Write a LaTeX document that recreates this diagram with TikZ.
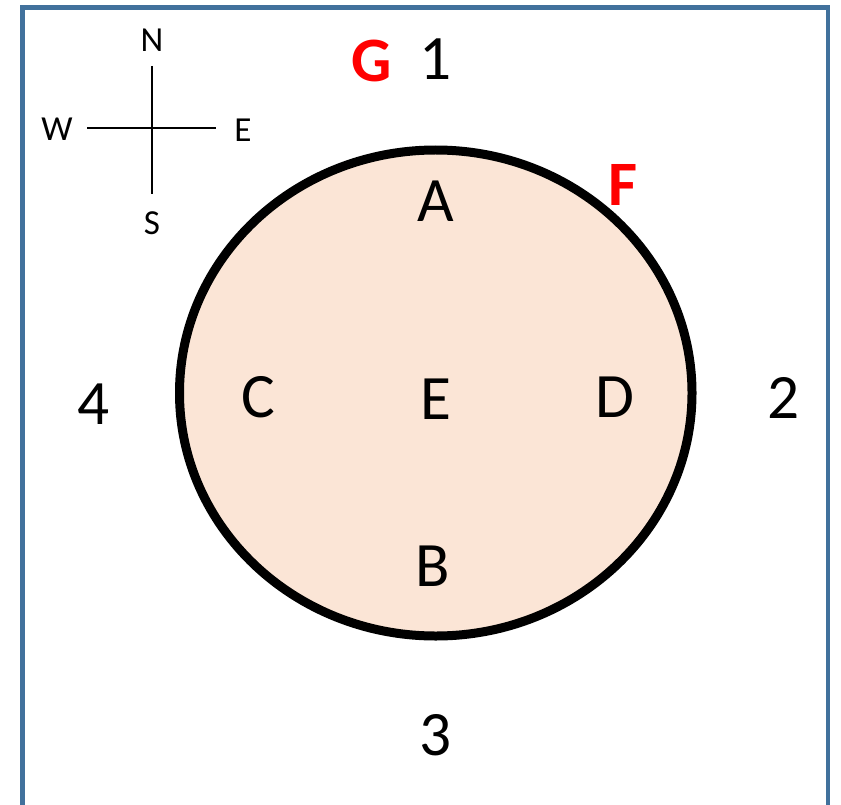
\documentclass[tikz,border=0pt]{standalone}
\usepackage{fontspec}
\setmainfont{Carlito}
\usetikzlibrary{positioning}
\definecolor{FrameBlue} {RGB}{ 65,113,156}
\definecolor{PeachFill} {RGB}{251,229,214}
\definecolor{MarkRed}   {RGB}{255,  0,  0}

\begin{document}
\begin{tikzpicture}[x=0.02cm,y=-0.02cm,
      lbl/.style={inner sep=0pt,font=\fontsize{36}{40}\selectfont},
      redlbl/.style={lbl,text=MarkRed,font=\fontsize{36}{40}\selectfont\bfseries},
      dirlbl/.style={inner sep=0pt,font=\fontsize{20}{24}\selectfont},
      cross/.style={line width=0.05cm,black}]
    \useasboundingbox (0,0) rectangle (841,804);
    % frame, open at the bottom
    \draw[FrameBlue,line width=0.09cm] (22.5,806) -- (22.5,7.5) -- (828,7.5) -- (828,806);
    % the disc
    \draw[PeachFill,fill=PeachFill] (435.75,393) ellipse [x radius=256.25,y radius=243];
    \draw[line width=0.18cm] (435.75,393) ellipse [x radius=256.25,y radius=243];
    % compass
    \coordinate (cN) at (152,66);
    \coordinate (cS) at (152,194);
    \coordinate (cW) at (87,128);
    \coordinate (cE) at (216,128);
    \draw[cross] (cN) -- (cS);
    \draw[cross] (cW) -- (cE);
    \node[dirlbl] (N) at (152,40) {N};
    \node[dirlbl] (S) at (152,223) {S};
    \node[dirlbl] (W) at (57,129) {W};
    \node[dirlbl] (E) at (243,130) {E};
    % labels
    \node[redlbl] (G) at (372,61) {G};
    \node[lbl] (one) at (436,59) {1};
    \node[lbl] (A) at (436,201) {A};
    \node[redlbl] (F) at (623,185) {F};
    \node[lbl] (C) at (258,397) {C};
    \node[lbl] (Ectr) at (436,399) {E};
    \node[lbl] (D) at (615,397) {D};
    \node[lbl] (B) at (433,566) {B};
    \node[lbl] (four) at (94,404) {4};
    \node[lbl] (two) at (784,398) {2};
    \node[lbl] (three) at (436,735) {3};
  \end{tikzpicture}
\end{document}
